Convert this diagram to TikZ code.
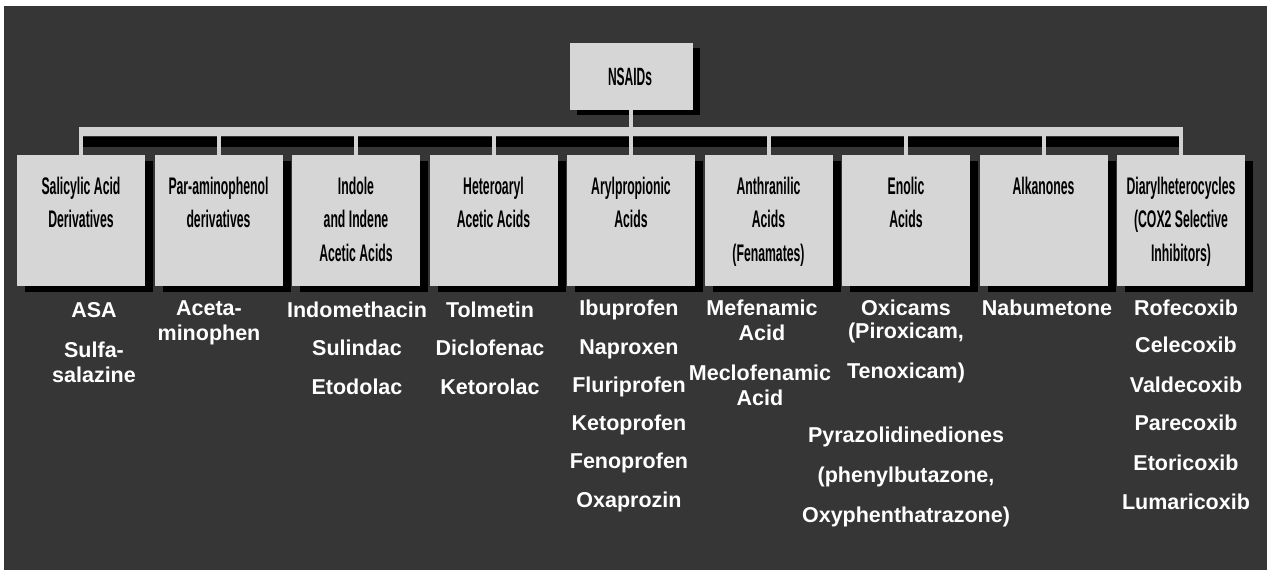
\documentclass[tikz,border=0pt]{standalone}
\usepackage{fontspec}
\setmainfont{Liberation Sans}
\newfontfamily\boxfont[FakeStretch=0.51]{Liberation Sans Bold}
\newfontfamily\topfont[FakeStretch=0.48]{Liberation Sans Bold}
\usetikzlibrary{shadows}
\definecolor{bggray}{HTML}{363636}
\definecolor{boxgray}{HTML}{D6D6D6}
\definecolor{barcol}{HTML}{D2D2D2}
\begin{document}
\begin{tikzpicture}[x=1pt,y=-1pt,
  cat/.style={fill=boxgray, minimum width=128pt, minimum height=131pt, inner sep=0pt,
    drop shadow={shadow xshift=8pt, shadow yshift=-6pt, fill=black, opacity=1}},
  top/.style={fill=boxgray, minimum width=123pt, minimum height=67pt, inner sep=0pt,
    drop shadow={shadow xshift=7pt, shadow yshift=-5pt, fill=black, opacity=1}},
  cattext/.style={anchor=north, align=center, inner sep=0pt, text=black,
    font=\boxfont\fontsize{24}{33.5}\selectfont},
  toptext/.style={align=center, inner sep=0pt, text=black,
    font=\topfont\fontsize{25}{28}\selectfont},
  item/.style={align=center, inner sep=0pt, text=white,
    font=\bfseries\fontsize{21.5}{25}\selectfont},
  bar/.style={draw=barcol, line width=9pt},
  barshadow/.style={draw=black, line width=10pt},
  tick/.style={draw=barcol, line width=4pt}]
\useasboundingbox (0,0) rectangle (1267,570);
\fill[white] (0,0) rectangle (1267,570);
\fill[bggray] (4,6) rectangle (1267,570);

% connector bar
\coordinate (barL) at (79,131);
\coordinate (barR) at (1183,131);
\draw[barshadow] ([yshift=-11pt]barL) -- ([yshift=-11pt]barR);
\draw[bar] (barL) -- (barR);

% boxes
\node[top] (nsaids) at (631,76.5) {};
\node[cat] (b1) at (81,220.5) {};
\node[cat] (b2) at (218.5,220.5) {};
\node[cat] (b3) at (356,220.5) {};
\node[cat] (b4) at (493.5,220.5) {};
\node[cat] (b5) at (631,220.5) {};
\node[cat] (b6) at (768.5,220.5) {};
\node[cat] (b7) at (906,220.5) {};
\node[cat] (b8) at (1043.5,220.5) {};
\node[cat] (b9) at (1181,220.5) {};

% ticks
\draw[tick] (nsaids.south) -- (nsaids.south |- barL);
\foreach \b in {b1,b2,b3,b4,b5,b6,b7,b8,b9}
  \draw[tick] (\b.north) -- (\b.north |- barL);

% texts in boxes
\node[toptext] (tn) at (630,77) {NSAIDs};
\node[cattext] (t1) at ([yshift=-22pt]b1.north) {Salicylic Acid\\Derivatives};
\node[cattext] (t2) at ([yshift=-22pt]b2.north) {Par-aminophenol\\derivatives};
\node[cattext] (t3) at ([yshift=-22pt]b3.north) {Indole\\and Indene\\Acetic Acids};
\node[cattext] (t4) at ([yshift=-22pt]b4.north) {Heteroaryl\\Acetic Acids};
\node[cattext] (t5) at ([yshift=-22pt]b5.north) {Arylpropionic\\Acids};
\node[cattext] (t6) at ([yshift=-22pt]b6.north) {Anthranilic\\Acids\\(Fenamates)};
\node[cattext] (t7) at ([yshift=-22pt]b7.north) {Enolic\\Acids};
\node[cattext] (t8) at ([yshift=-22pt]b8.north) {Alkanones};
\node[cattext] (t9) at ([yshift=-22pt]b9.north) {Diarylheterocycles\\(COX2 Selective\\Inhibitors)};

% drug lists
\node[item] (d1a) at (94,310) {ASA};
\node[item] (d1b) at (94,362.5) {Sulfa-\\salazine};
\node[item] (d2a) at (209,322.5) {Aceta-\\minophen};
\node[item] (d3a) at (357,310) {Indomethacin};
\node[item] (d3b) at (357,348) {Sulindac};
\node[item] (d3c) at (357,387) {Etodolac};
\node[item] (d4a) at (490,310) {Tolmetin};
\node[item] (d4b) at (490,348) {Diclofenac};
\node[item] (d4c) at (490,387) {Ketorolac};
\node[item] (d5a) at (629,310) {Ibuprofen};
\node[item] (d5b) at (629,349) {Naproxen};
\node[item] (d5c) at (629,387) {Fluriprofen};
\node[item] (d5d) at (629,425) {Ketoprofen};
\node[item] (d5e) at (629,463) {Fenoprofen};
\node[item] (d5f) at (629,502) {Oxaprozin};
\node[item] (d6a) at (762,320.5) {Mefenamic\\Acid};
\node[item] (d6b) at (760,385.5) {Meclofenamic\\Acid};
\node[item] (d7a) at (906,308) {Oxicams};
\node[item] (d7b) at (906,333) {(Piroxicam,};
\node[item] (d7c) at (906,373) {Tenoxicam)};
\node[item] (d7d) at (906,437) {Pyrazolidinediones};
\node[item] (d7e) at (906,477) {(phenylbutazone,};
\node[item] (d7f) at (906,517) {Oxyphenthatrazone)};
\node[item] (d8a) at (1047,308) {Nabumetone};
\node[item] (d9a) at (1186,308) {Rofecoxib};
\node[item] (d9b) at (1186,345) {Celecoxib};
\node[item] (d9c) at (1186,385) {Valdecoxib};
\node[item] (d9d) at (1186,423) {Parecoxib};
\node[item] (d9e) at (1186,463) {Etoricoxib};
\node[item] (d9f) at (1186,502) {Lumaricoxib};
\end{tikzpicture}
\end{document}
